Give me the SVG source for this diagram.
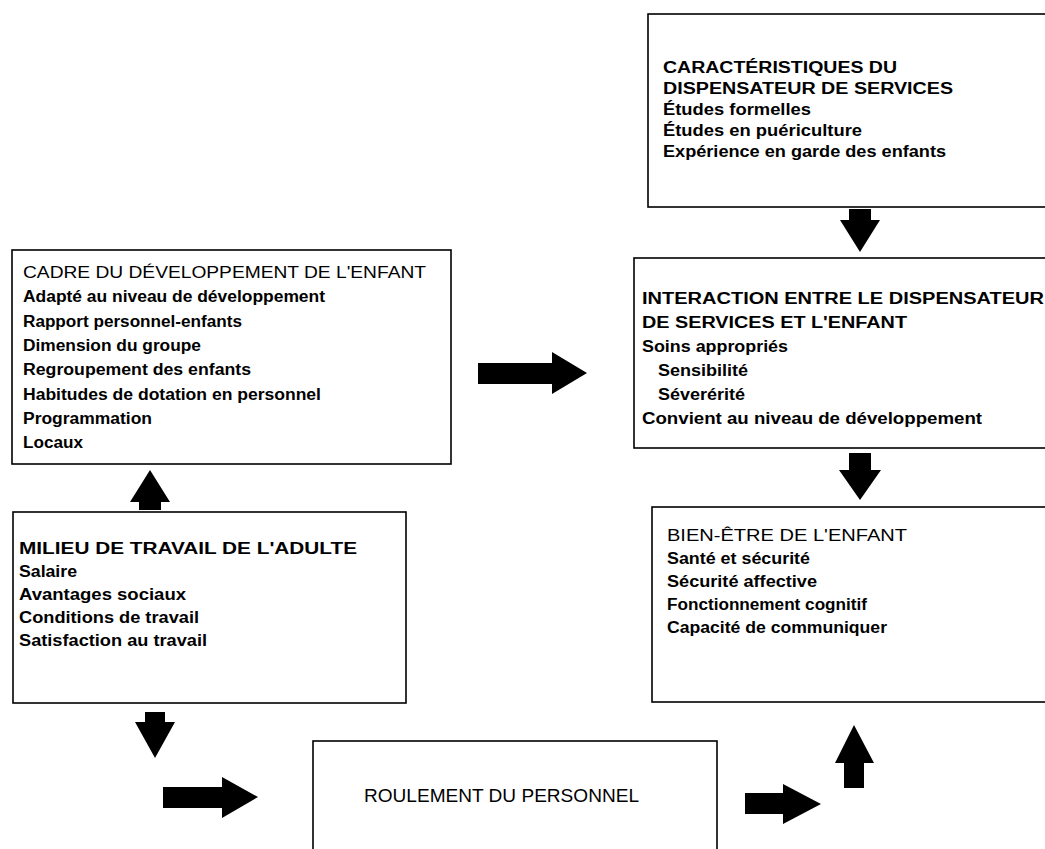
<svg xmlns="http://www.w3.org/2000/svg" width="1045" height="849" viewBox="0 0 1045 849">
<style>
.box{fill:#fff;stroke:#000;stroke-width:1.6}
.t{font-family:"Liberation Sans",Arial,Helvetica,sans-serif;font-size:16px;font-weight:bold;fill:#000}
.r{font-weight:normal}
.arr{fill:#000}
</style>
<rect width="1045" height="849" fill="#fff"/>
<g id="connectors">
<polygon class="arr" points="849,209 871,209 871,220 880,220 860,252 840,220 849,220"/>
<polygon class="arr" points="849,453 871,453 871,470 881,470 860,500 839,470 849,470"/>
<polygon class="arr" points="478,363 552,363 552,352 587,373 552,394 552,384 478,384"/>
<polygon class="arr" points="150,470 170,502 161,502 161,510 139,510 139,502 130,502"/>
<polygon class="arr" points="145,712 165,712 165,722 175,722 155,758 135,722 145,722"/>
<polygon class="arr" points="163,787 222,787 222,777 258,797 222,818 222,808 163,808"/>
<polygon class="arr" points="745,793 783,793 783,784 821,804 783,824 783,814 745,814"/>
<polygon class="arr" points="854,725 874,763 864,763 864,788 844,788 844,763 835,763"/>
</g>
<g id="caracteristiques">
<rect class="box" x="648" y="14" width="410" height="193"/>
<text class="t" x="663" y="73" textLength="234" lengthAdjust="spacingAndGlyphs">CARACTÉRISTIQUES DU</text>
<text class="t" x="663" y="94" textLength="290" lengthAdjust="spacingAndGlyphs">DISPENSATEUR DE SERVICES</text>
<text class="t" x="663" y="115" textLength="148" lengthAdjust="spacingAndGlyphs">Études formelles</text>
<text class="t" x="663" y="136" textLength="199" lengthAdjust="spacingAndGlyphs">Études en puériculture</text>
<text class="t" x="663" y="157" textLength="283" lengthAdjust="spacingAndGlyphs">Expérience en garde des enfants</text>
</g>
<g id="interaction">
<rect class="box" x="634" y="258" width="420" height="190"/>
<text class="t" x="642" y="304" textLength="402" lengthAdjust="spacingAndGlyphs">INTERACTION ENTRE LE DISPENSATEUR</text>
<text class="t" x="642" y="328" textLength="265" lengthAdjust="spacingAndGlyphs">DE SERVICES ET L'ENFANT</text>
<text class="t" x="642" y="352" textLength="146" lengthAdjust="spacingAndGlyphs">Soins appropriés</text>
<text class="t" x="658" y="376" textLength="90" lengthAdjust="spacingAndGlyphs">Sensibilité</text>
<text class="t" x="658" y="400" textLength="87" lengthAdjust="spacingAndGlyphs">Séverérité</text>
<text class="t" x="642" y="424" textLength="340" lengthAdjust="spacingAndGlyphs">Convient au niveau de développement</text>
</g>
<g id="bien-etre">
<rect class="box" x="652" y="507" width="400" height="195"/>
<text class="t r" x="667" y="541" textLength="240" lengthAdjust="spacingAndGlyphs">BIEN-ÊTRE DE L'ENFANT</text>
<text class="t" x="667" y="564" textLength="143" lengthAdjust="spacingAndGlyphs">Santé et sécurité</text>
<text class="t" x="667" y="587" textLength="150" lengthAdjust="spacingAndGlyphs">Sécurité affective</text>
<text class="t" x="667" y="610" textLength="200" lengthAdjust="spacingAndGlyphs">Fonctionnement cognitif</text>
<text class="t" x="667" y="633" textLength="220" lengthAdjust="spacingAndGlyphs">Capacité de communiquer</text>
</g>
<g id="cadre">
<rect class="box" x="12" y="250" width="439" height="214"/>
<text class="t r" x="23" y="278" textLength="403" lengthAdjust="spacingAndGlyphs">CADRE DU DÉVELOPPEMENT DE L'ENFANT</text>
<text class="t" x="23" y="302" textLength="302" lengthAdjust="spacingAndGlyphs">Adapté au niveau de développement</text>
<text class="t" x="23" y="327" textLength="219" lengthAdjust="spacingAndGlyphs">Rapport personnel-enfants</text>
<text class="t" x="23" y="351" textLength="178" lengthAdjust="spacingAndGlyphs">Dimension du groupe</text>
<text class="t" x="23" y="375" textLength="228" lengthAdjust="spacingAndGlyphs">Regroupement des enfants</text>
<text class="t" x="23" y="400" textLength="298" lengthAdjust="spacingAndGlyphs">Habitudes de dotation en personnel</text>
<text class="t" x="23" y="424" textLength="129" lengthAdjust="spacingAndGlyphs">Programmation</text>
<text class="t" x="23" y="448" textLength="60" lengthAdjust="spacingAndGlyphs">Locaux</text>
</g>
<g id="milieu">
<rect class="box" x="13" y="512" width="393" height="191"/>
<text class="t" x="19" y="554" textLength="338" lengthAdjust="spacingAndGlyphs">MILIEU DE TRAVAIL DE L'ADULTE</text>
<text class="t" x="19" y="577" textLength="58" lengthAdjust="spacingAndGlyphs">Salaire</text>
<text class="t" x="19" y="600" textLength="167" lengthAdjust="spacingAndGlyphs">Avantages sociaux</text>
<text class="t" x="19" y="623" textLength="180" lengthAdjust="spacingAndGlyphs">Conditions de travail</text>
<text class="t" x="19" y="646" textLength="188" lengthAdjust="spacingAndGlyphs">Satisfaction au travail</text>
</g>
<g id="roulement">
<rect class="box" x="313" y="741" width="404" height="120"/>
<text class="t r" x="364" y="802" style="font-size:18px" textLength="275" lengthAdjust="spacingAndGlyphs">ROULEMENT DU PERSONNEL</text>
</g>
</svg>
